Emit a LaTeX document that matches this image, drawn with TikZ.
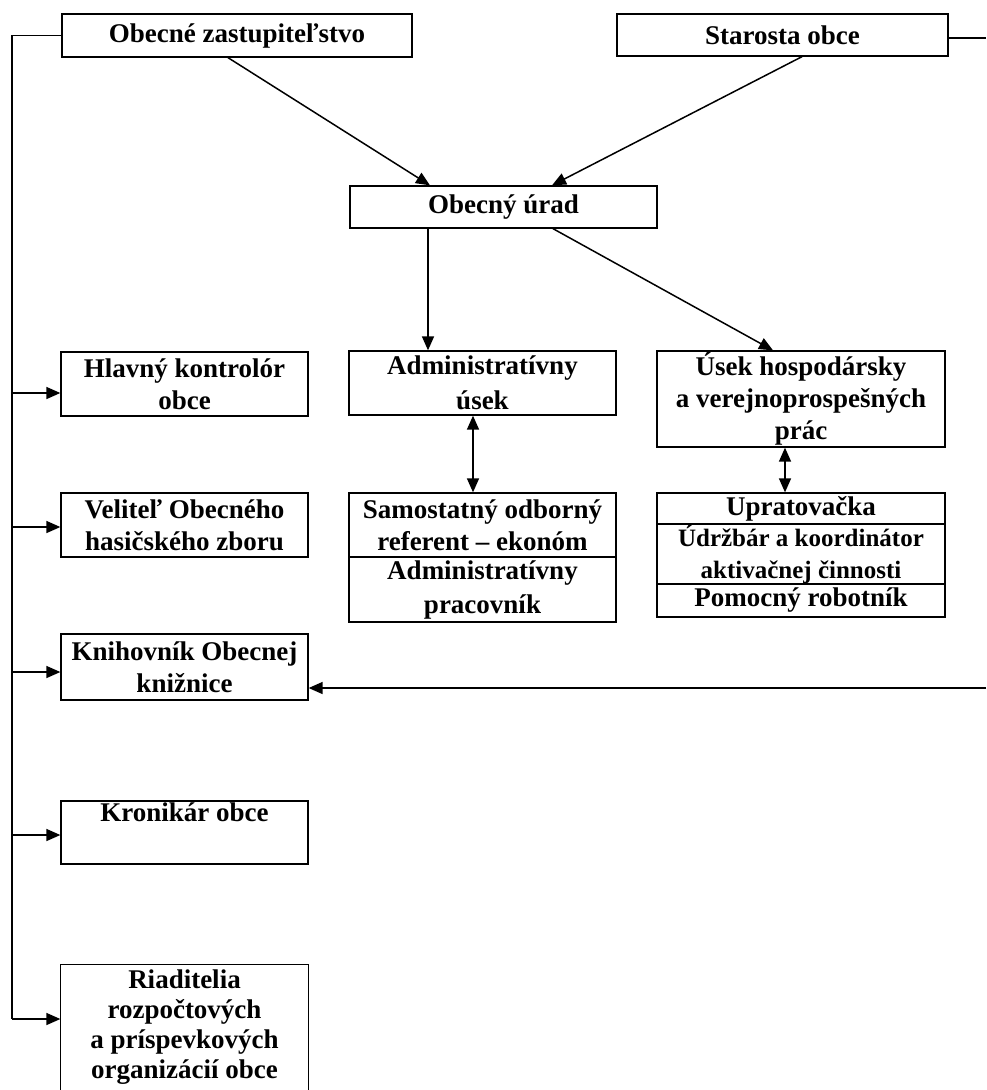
\documentclass[tikz,border=0pt]{standalone}
\usepackage{fontspec}
\setmainfont{Liberation Serif}
\usetikzlibrary{arrows.meta}
\newcommand{\boxfont}{\fontsize{27}{32}\selectfont\bfseries}
\newcommand{\smallboxfont}{\fontsize{25}{29}\selectfont\bfseries}
\tikzset{
    unit/.style={draw, line width=1.3pt, inner sep=0pt, align=center, font=\boxfont},
    conn/.style={line width=1.5pt, -{Triangle[length=14pt,width=12pt]}},
    biconn/.style={line width=1.5pt, {Triangle[length=14pt,width=12pt]}-{Triangle[length=14pt,width=12pt]}}
}
\newcommand{\unitbox}[6]{%
    \node[unit, minimum width=#4, minimum height=#5] (#1) at (#2, #3) {#6};
}

\begin{document}
\begin{tikzpicture}[x=1pt, y=-1pt]
\useasboundingbox (0,0) rectangle (986,1090);
\clip (0,0) rectangle (986,1090);

% top level
\unitbox{zast}{237}{35.5}{350}{43}{Obecné zastupiteľstvo}
\unitbox{star}{782.5}{35}{331}{42}{Starosta obce}
\unitbox{urad}{503.5}{207}{307}{42}{Obecný úrad}

% sections
\unitbox{adm}{482.5}{383}{267}{64}{Administratívny\\[3pt]úsek}
\unitbox{hosp}{801}{399}{288}{96}{Úsek hospodársky\\a verejnoprospešných\\prác}
\unitbox{ref}{482.5}{525}{267}{64}{Samostatný odborný\\referent – ekonóm}
\unitbox{prac}{482.5}{589.5}{267}{65}{Administratívny\\[2pt]pracovník}
\unitbox{upr}{801}{508.5}{288}{31}{Upratovačka}
\unitbox{udr}{801}{554}{288}{60}{\smallboxfont Údržbár a koordinátor\\\smallboxfont aktivačnej činnosti}
\unitbox{pom}{801}{600.5}{288}{33}{Pomocný robotník}

% left column
\unitbox{kontr}{184.5}{384}{247}{64}{Hlavný kontrolór\\obce}
\unitbox{hasic}{184.5}{525}{247}{64}{Veliteľ Obecného\\hasičského zboru}
\unitbox{kniz}{184.5}{667}{247}{66}{Knihovník Obecnej\\knižnice}
\unitbox{kron}{184.5}{832.5}{247}{63}{Kronikár obce\\\strut}
\node[unit, draw=none, minimum width=247, minimum height=124] (riad) at (184.5, 1027)
    {Riaditelia\\[-2pt]rozpočtových\\[-2pt]a príspevkových\\[-2pt]organizácií obce};
% bottom of this box runs off the page
\draw[line width=1.3pt] ([yshift=-20pt]riad.south west) |- (riad.north east) -- ([yshift=-20pt]riad.south east);

% line coordinates
\coordinate (ltop) at (12, 35.5);
\coordinate (lbot) at (12, 1019);
\coordinate (rtop) at (986, 38);
\coordinate (rlib) at (986, 688);

\draw[line width=1.5pt] (zast.west) -- (ltop) -- (lbot);
\draw[line width=1.5pt] (rtop -| star.east) -- (rtop);
\draw[conn] (lbot) -- (lbot -| riad.west);
\foreach \target/\dy in {kontr/-9pt, hasic/-2pt, kniz/-5pt, kron/-2.5pt}{
    \coordinate (\target-in) at ([yshift=\dy]\target.west);
    \draw[conn] (\target-in -| ltop) -- (\target-in);
}
\draw[conn] (rlib) -- (rlib -| kniz.east);

\draw[conn] ([xshift=-9pt]zast.south) -- ([xshift=-73.5pt]urad.north);
\draw[conn] ([xshift=19.5pt]star.south) -- ([xshift=48.5pt]urad.north);
\draw[conn] ([xshift=-75.5pt]urad.south) -- ([xshift=-54.5pt]adm.north);
\draw[conn] ([xshift=49.5pt]urad.south) -- ([xshift=-28pt]hosp.north);
\draw[biconn] ([xshift=-9.5pt]adm.south) -- ([xshift=-9.5pt]ref.north);
\draw[biconn] ([xshift=-16pt]hosp.south) -- ([xshift=-16pt]upr.north);

\end{tikzpicture}
\end{document}
